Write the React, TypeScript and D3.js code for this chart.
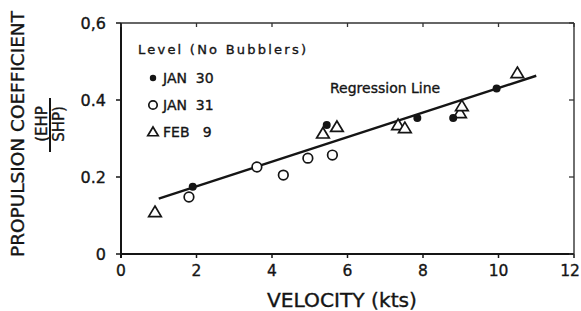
import React from 'react';
import * as d3 from 'd3';

// Propulsion coefficient vs velocity, three test days
const jan30X = [1.9, 5.45, 7.85, 8.8, 9.95];
const jan30Y = [0.175, 0.335, 0.353, 0.353, 0.43];
const jan31X = [1.8, 3.6, 4.3, 4.95, 5.6];
const jan31Y = [0.148, 0.226, 0.205, 0.249, 0.257];
const feb9X = [0.9, 5.35, 5.72, 7.34, 7.52, 8.98, 9.03, 10.5];
const feb9Y = [0.109, 0.313, 0.33, 0.335, 0.327, 0.366, 0.384, 0.47];
// regression line endpoints
const regX = [1.0, 11.0];
const regY = [0.144, 0.463];

const xTicks = [0, 2, 4, 6, 8, 10, 12];
const yTicks = [0, 0.2, 0.4, 0.6];
const yTickLabels = ['0', '0.2', '0.4', '0,6'];
const legendLabels = ['JAN  30', 'JAN  31', 'FEB   9'];

const W = 581;
const H = 311;
const margin = { top: 23, right: 7, bottom: 57, left: 121 };
const font = 'DejaVu Sans, Verdana, sans-serif';
const ink = '#151515';

const x = d3.scaleLinear().domain([0, 12]).range([margin.left, W - margin.right]);
const y = d3.scaleLinear().domain([0, 0.6]).range([H - margin.bottom, margin.top]);

const triPath = (cx: number, cy: number, s = 6) =>
  `M${cx},${cy - s}L${cx + s * 1.05},${cy + s * 0.75}L${cx - s * 1.05},${cy + s * 0.75}Z`;

const Dot = ({ cx, cy }: { cx: number; cy: number }) => <circle cx={cx} cy={cy} r={4} fill={ink} />;
const Ring = ({ cx, cy }: { cx: number; cy: number }) => (
  <circle cx={cx} cy={cy} r={4.8} fill="#fff" stroke={ink} strokeWidth={1.7} />
);
const Tri = ({ cx, cy }: { cx: number; cy: number }) => (
  <path d={triPath(cx, cy)} fill="#fff" stroke={ink} strokeWidth={1.7} />
);

const txt = { fontFamily: font, fill: ink, stroke: ink, strokeWidth: 0.35 };

export default function App() {
  const line = d3.line<number>()
    .x((_, i) => x(regX[i]))
    .y((d) => y(d));
  const x0 = margin.left;
  const x1 = W - margin.right;
  const y0 = H - margin.bottom;
  const y1 = margin.top;

  return (
    <svg width={W} height={H} style={{ position: 'absolute', left: 0, top: 0, background: '#fff' }}>
      {/* frame */}
      <line x1={x0} x2={x1} y1={y1} y2={y1} stroke="#333" strokeWidth={1.4} />
      <line x1={x1} x2={x1} y1={y1} y2={y0} stroke="#333" strokeWidth={1.4} />
      <line x1={x0} x2={x0} y1={y1} y2={y0 + 4} stroke={ink} strokeWidth={2} />
      <line x1={x0} x2={x1} y1={y0} y2={y0} stroke={ink} strokeWidth={2} />

      {xTicks.map((t) => (
        <g key={'x' + t}>
          <line x1={x(t)} x2={x(t)} y1={y0} y2={y0 + 4} stroke={ink} strokeWidth={1.5} />
          <line x1={x(t)} x2={x(t)} y1={y1} y2={y1 + 4} stroke="#333" strokeWidth={1.3} />
          <text x={Math.min(x(t), W - 11)} y={y0 + 22} textAnchor="middle" fontSize={15.5} {...txt}>
            {t}
          </text>
        </g>
      ))}
      {yTicks.map((t, i) => (
        <g key={'y' + t}>
          <line x1={x0 - 5} x2={x0} y1={y(t)} y2={y(t)} stroke={ink} strokeWidth={1.5} />
          <line x1={x1 - 5} x2={x1} y1={y(t)} y2={y(t)} stroke="#333" strokeWidth={1.3} />
          <text x={x0 - 15} y={y(t)} dy="0.36em" textAnchor="end" fontSize={16} {...txt}>
            {yTickLabels[i]}
          </text>
        </g>
      ))}

      {/* regression line */}
      <path d={line(regY) || ''} fill="none" stroke={ink} strokeWidth={2.4} />
      <text x={330} y={93} fontSize={14} {...txt}>Regression Line</text>

      {feb9X.map((v, i) => <Tri key={'t' + i} cx={x(v)} cy={y(feb9Y[i])} />)}
      {jan31X.map((v, i) => <Ring key={'o' + i} cx={x(v)} cy={y(jan31Y[i])} />)}
      {jan30X.map((v, i) => <Dot key={'d' + i} cx={x(v)} cy={y(jan30Y[i])} />)}

      {/* legend */}
      <text x={138} y={54} fontSize={13} {...txt} textLength={168} lengthAdjust="spacing">
        Level (No Bubblers)
      </text>
      {legendLabels.map((l, i) => {
        const ly = 78 + i * 27;
        return (
          <g key={l}>
            {i === 0 && <circle cx={153} cy={ly} r={3.2} fill={ink} />}
            {i === 1 && <circle cx={153} cy={ly} r={4.2} fill="#fff" stroke={ink} strokeWidth={1.7} />}
            {i === 2 && <path d={triPath(153, ly, 5)} fill="#fff" stroke={ink} strokeWidth={1.7} />}
            <text x={163} y={ly} dy="0.36em" fontSize={14} {...txt} xmlSpace="preserve">
              {l}
            </text>
          </g>
        );
      })}

      {/* axis titles */}
      <text x={342} y={307} textAnchor="middle" fontSize={19} {...txt} textLength={150} lengthAdjust="spacingAndGlyphs">
        VELOCITY (kts)
      </text>
      <text transform="translate(24,134) rotate(-90)" textAnchor="middle" fontSize={18} {...txt}
        textLength={246} lengthAdjust="spacingAndGlyphs">
        PROPULSION COEFFICIENT
      </text>
      <text transform="translate(47,124) rotate(-90)" textAnchor="middle" fontSize={15} {...txt}>
        (EHP
      </text>
      <line x1={50} x2={50} y1={98} y2={152} stroke={ink} strokeWidth={2} />
      <text transform="translate(64,124) rotate(-90)" textAnchor="middle" fontSize={15} {...txt}>
        SHP)
      </text>
    </svg>
  );
}
